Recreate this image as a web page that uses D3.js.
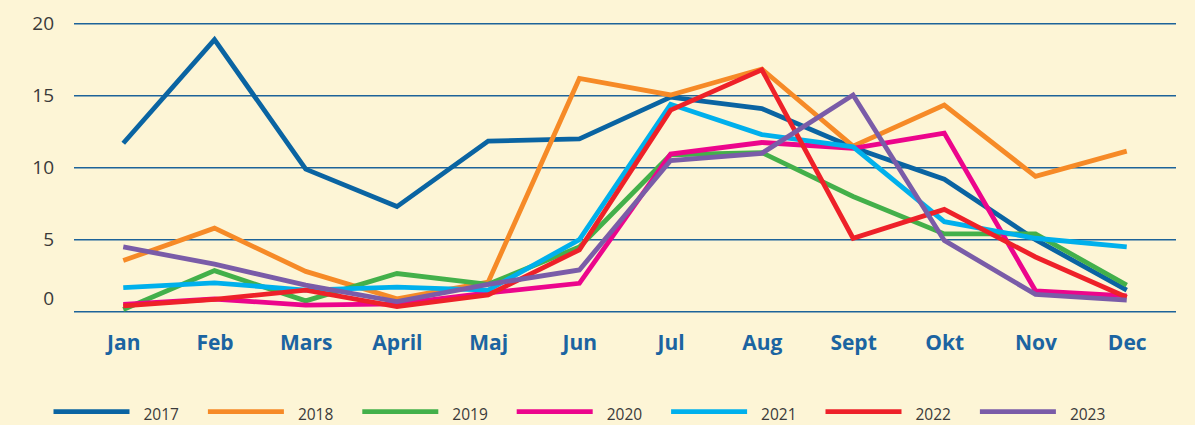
<!DOCTYPE html>
<html>
<head>
<meta charset="utf-8">
<script src="https://cdn.jsdelivr.net/npm/d3@7"></script>
<style>
  html, body { margin: 0; padding: 0; background: #fdf5d6; }
  svg { display: block; }
</style>
</head>
<body>
<div id="chart"></div>
<script>
const months = ["Jan","Feb","Mars","April","Maj","Jun","Jul","Aug","Sept","Okt","Nov","Dec"];
const years = ["2017","2018","2019","2020","2021","2022","2023"];
const yTicks = [0, 5, 10, 15, 20];

const v2017 = [11.7, 18.9, 9.9, 7.3, 11.85, 12.0, 14.9, 14.1, 11.4, 9.2, 5.0, 1.5];
const v2018 = [3.55, 5.8, 2.8, 0.9, 2.05, 16.2, 15.05, 16.85, 11.5, 14.35, 9.4, 11.15];
const v2019 = [0.15, 2.85, 0.75, 2.65, 1.9, 4.5, 10.9, 11.05, 8.0, 5.4, 5.4, 1.85];
const v2020 = [0.5, 0.88, 0.45, 0.55, 1.3, 1.97, 10.95, 11.75, 11.35, 12.4, 1.45, 1.1];
const v2021 = [1.67, 2.0, 1.5, 1.7, 1.5, 5.0, 14.4, 12.3, 11.45, 6.25, 5.1, 4.5];
const v2022 = [0.4, 0.85, 1.5, 0.35, 1.16, 4.3, 14.0, 16.8, 5.1, 7.1, 3.8, 1.0];
const v2023 = [4.5, 3.3, 1.85, 0.7, 1.9, 2.9, 10.5, 11.0, 15.05, 4.95, 1.2, 0.8];

const seriesValues = [v2017, v2018, v2019, v2020, v2021, v2022, v2023];
const colors = ["#0a64a2", "#f68a27", "#43b04a", "#ec058c", "#00b0ec", "#ee2129", "#7a5ca8"];

const W = 1195, H = 425;
const svg = d3.select("#chart").append("svg").attr("width", W).attr("height", H);
svg.append("rect").attr("width", W).attr("height", H).attr("fill", "#fdf5d6");

const x = d3.scalePoint().domain(months).range([74, 1176]).padding(0.54);
const y = d3.scaleLinear().domain([0, 20]).range([311.7, 23.7]);

// gridlines
svg.append("g").selectAll("line").data(yTicks).join("line")
  .attr("x1", 74).attr("x2", 1176)
  .attr("y1", d => y(d)).attr("y2", d => y(d))
  .attr("stroke", "#1d6399").attr("stroke-width", 1.6);

// y labels
svg.append("g").selectAll("text").data(yTicks).join("text")
  .attr("x", 54)
  .attr("y", d => y(d) + (d === 0 ? -13.5 : 0))
  .attr("dy", "0.35em")
  .attr("text-anchor", "end")
  .attr("font-family", "'Open Sans', sans-serif")
  .attr("font-size", 19)
  .attr("fill", "#3a3a3a")
  .text(d => d);

// x labels
const xAxis = d3.axisBottom(x).tickSize(0).tickPadding(0);
const gx = svg.append("g").attr("transform", "translate(0,335)").call(xAxis);
gx.select(".domain").remove();
gx.selectAll("text")
  .attr("y", 0).attr("dy", "0.73em")
  .attr("font-family", "'Open Sans', sans-serif")
  .attr("font-weight", "bold")
  .attr("font-size", 21)
  .attr("fill", "#1b64a1");

// lines
const line = d3.line().x((d, i) => x(months[i])).y(d => y(d));
svg.append("g").selectAll("path").data(seriesValues).join("path")
  .attr("d", d => line(d))
  .attr("fill", "none")
  .attr("stroke", (d, i) => colors[i])
  .attr("stroke-width", 4.8)
  .attr("stroke-linejoin", "miter")
  .attr("stroke-linecap", "butt");

// legend
const lg = svg.append("g");
const step = 154.4;
years.forEach((yr, i) => {
  const x0 = 53.5 + i * step;
  lg.append("line").attr("x1", x0).attr("x2", x0 + 76)
    .attr("y1", 411.7).attr("y2", 411.7)
    .attr("stroke", colors[i]).attr("stroke-width", 4.8);
  lg.append("text").attr("x", x0 + 90).attr("y", 420)
    .attr("font-family", "'Open Sans', sans-serif")
    .attr("font-size", 15.5)
    .attr("fill", "#3a3a3a")
    .text(yr);
});
</script>
</body>
</html>
